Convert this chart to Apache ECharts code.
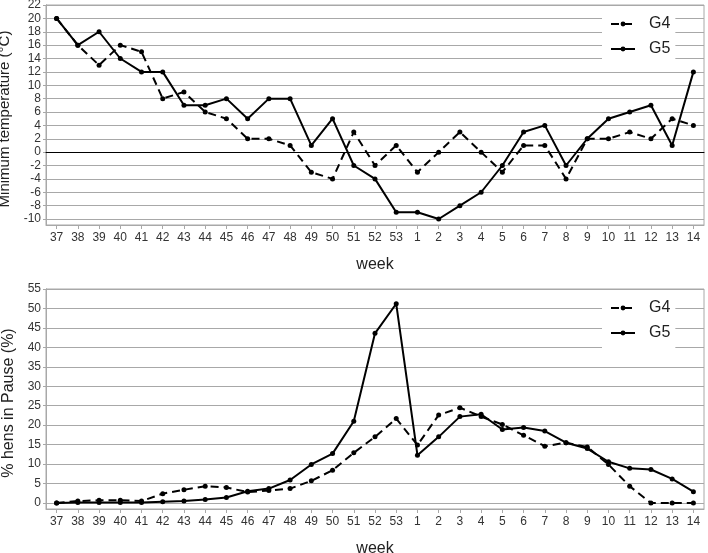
<!DOCTYPE html>
<html>
<head>
<meta charset="utf-8">
<script src="https://cdn.jsdelivr.net/npm/echarts@6/dist/echarts.min.js"></script>
<style>
html,body{margin:0;padding:0;background:#fff;}
#chart{width:708px;height:553px;}
</style>
</head>
<body>
<div id="chart"></div>
<script>
var weeks = ['37','38','39','40','41','42','43','44','45','46','47','48','49','50','51','52','53','1','2','3','4','5','6','7','8','9','10','11','12','13','14'];
var tempG4 = [20,16,13,16,15,8,9,6,5,2,2,1,-3,-4,3,-2,1,-3,0,3,0,-3,1,1,-4,2,2,3,2,5,4];
var tempG5 = [20,16,18,14,12,12,7,7,8,5,8,8,1,5,-2,-4,-9,-9,-10,-8,-6,-2,3,4,-2,2,5,6,7,1,12];
var pauseG4 = [0,0.5,0.7,0.7,0.5,2.4,3.4,4.3,4.0,2.8,3.2,3.7,5.7,8.4,12.9,17.0,21.7,14.9,22.6,24.5,22.2,20.2,17.4,14.6,15.5,14.4,9.9,4.3,0,0,0];
var pauseG5 = [0,0.1,0.1,0.1,0.1,0.3,0.5,0.9,1.4,3.0,3.7,5.9,9.9,12.7,21.0,43.6,51.2,12.3,17.0,22.2,22.8,18.9,19.4,18.5,15.5,14.0,10.6,8.9,8.6,6.2,2.9];
var tempTicks = {min: -10, max: 22, interval: 2};
var pauseTicks = {min: 0, max: 55, interval: 5};

var FONT = 'Liberation Sans, Arial, sans-serif';
var GRID = '#a8a8a8';
var TXT = '#333';

function innerX(grid, showZero) {
  return {
    type: 'category', gridIndex: grid, data: weeks, boundaryGap: true,
    axisLine: {show: showZero, onZero: true, lineStyle: {color: '#000', width: 1}},
    axisTick: {show: false}, axisLabel: {show: false}, splitLine: {show: false}, z: 3
  };
}
function frameX(grid) {
  return {
    type: 'category', gridIndex: grid, data: weeks, boundaryGap: true,
    axisLine: {show: true, onZero: false, lineStyle: {color: GRID, width: 1}},
    axisTick: {show: true, alignWithLabel: true, length: 4, lineStyle: {color: GRID}},
    axisLabel: {show: true, interval: 0, fontSize: 12, color: TXT, margin: 7, fontFamily: FONT},
    name: 'week', nameLocation: 'middle', nameGap: 32,
    nameTextStyle: {fontSize: 16, color: '#222', fontFamily: FONT}
  };
}
function innerY(grid, t, name, fs) {
  return {
    type: 'value', gridIndex: grid, min: t.min, max: t.max, interval: t.interval,
    axisLine: {show: true, lineStyle: {color: GRID}},
    axisTick: {show: true, length: 3, lineStyle: {color: GRID}},
    axisLabel: {fontSize: 12, color: TXT, margin: 5, fontFamily: FONT},
    splitLine: {show: true, lineStyle: {color: GRID, width: 1}},
    name: name, nameLocation: 'middle', nameGap: 25,
    nameTextStyle: {fontSize: fs, color: '#222', fontFamily: FONT, padding: [0, 14, 0, 0]}
  };
}
function frameY(grid) {
  return {
    type: 'value', gridIndex: grid, min: 0, max: 1,
    axisLine: {show: true, lineStyle: {color: GRID}},
    axisTick: {show: false}, axisLabel: {show: false}, splitLine: {show: false}
  };
}
function ser(name, data, xi, yi, dashed) {
  return {
    name: name, type: 'line', xAxisIndex: xi, yAxisIndex: yi, data: data,
    symbol: 'circle', symbolSize: 5, showSymbol: true,
    lineStyle: {color: '#000', width: 2, type: dashed ? [8, 5] : 'solid'},
    itemStyle: {color: '#000'}, z: 5
  };
}
function legend(top) {
  return {
    data: ['G4', 'G5'], orient: 'vertical', left: 602, top: top,
    backgroundColor: '#fff', padding: [9, 5, 9, 8], itemGap: 9,
    itemWidth: 24, itemHeight: 6,
    lineStyle: {type: 'inherit', width: 2},
    textStyle: {fontSize: 16, color: '#222', fontFamily: FONT, padding: [0, 0, 0, 9]}
  };
}

var chart = echarts.init(document.getElementById('chart'), null, {renderer: 'canvas'});
chart.setOption({
  backgroundColor: '#fff',
  animation: false,
  grid: [
    {left: 46, right: 4, top: 5, height: 214, outerBoundsMode: 'none'},
    {left: 46, right: 4, top: 5, height: 220, outerBoundsMode: 'none', show: true, borderColor: GRID, borderWidth: 1, backgroundColor: 'transparent'},
    {left: 46, right: 4, top: 289, height: 214, outerBoundsMode: 'none'},
    {left: 46, right: 4, top: 289, height: 220, outerBoundsMode: 'none', show: true, borderColor: GRID, borderWidth: 1, backgroundColor: 'transparent'}
  ],
  xAxis: [innerX(0, true), frameX(1), innerX(2, false), frameX(3)],
  yAxis: [innerY(0, tempTicks, 'Minimum temperature (°C)', 15), frameY(1), innerY(2, pauseTicks, '% hens in Pause (%)', 16), frameY(3)],
  legend: [legend(7), legend(291)],
  series: [
    ser('G4', tempG4, 0, 0, true),
    ser('G5', tempG5, 0, 0, false),
    ser('G4', pauseG4, 2, 2, true),
    ser('G5', pauseG5, 2, 2, false)
  ]
});
</script>
</body>
</html>
